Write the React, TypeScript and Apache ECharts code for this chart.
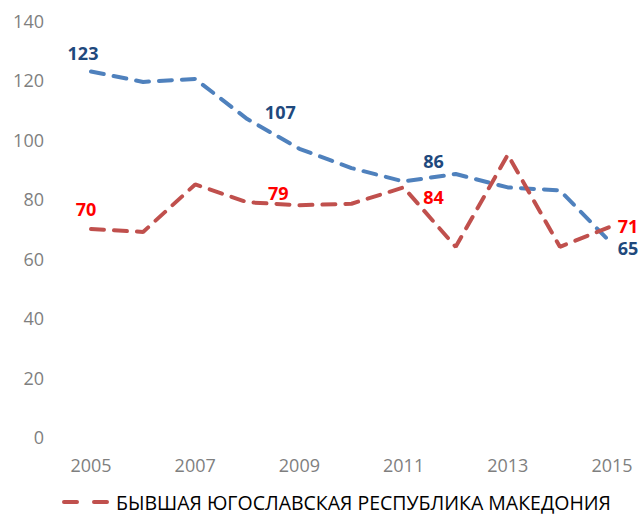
import React, { useEffect, useRef } from "react";
import * as echarts from "echarts";

const years = ["2005", "2006", "2007", "2008", "2009", "2010", "2011", "2012", "2013", "2014", "2015"];
const blueName = "Сравнение";
const redName = "БЫВШАЯ ЮГОСЛАВСКАЯ РЕСПУБЛИКА МАКЕДОНИЯ";
const blueValues = [123, 119.5, 120.5, 107, 97, 90.5, 86, 88.5, 84, 83, 65];
const redValues = [70, 69, 85, 79, 78, 78.5, 84, 64, 95, 64, 71];
// which points carry a visible data label, with label offsets (style only)
const blueLabelIdx = [0, 3, 6, 10];
const redLabelIdx = [0, 3, 6, 10];
const blueOffsets: Record<number, number[]> = { 0: [-8, -19], 3: [33, -7], 6: [30, -20], 10: [16, 4] };
const redOffsets: Record<number, number[]> = { 0: [-5, -20], 3: [31, -9], 6: [30, 10], 10: [16, 0] };
const yTicks = { min: 0, max: 140, interval: 20 };

export default function App() {
  const ref = useRef<HTMLDivElement>(null);
  useEffect(() => {
    if (!ref.current) return;
    const chart = echarts.init(ref.current, null, { renderer: "svg" });
    const mk = (vals: number[], idx: number[], offs: Record<number, number[]>, color: string) =>
      vals.map((v, i) =>
        idx.includes(i)
          ? {
              value: v,
              label: {
                show: true,
                position: "inside",
                offset: offs[i],
                color,
                fontWeight: "bold",
                fontSize: 18,
                lineHeight: 18,
                fontFamily: "Open Sans",
                formatter: (p: any) => String(Math.round(p.value)),
              },
            }
          : { value: v }
      );
    chart.setOption({
      animation: false,
      grid: { left: 91, right: 28, top: 21, bottom: 77 },
      legend: {
        data: [redName],
        top: 487,
        left: 57,
        itemWidth: 43,
        itemHeight: 14,
        itemGap: 10,
        itemStyle: { color: "transparent", borderColor: "transparent", borderWidth: 0, opacity: 0 },
        lineStyle: { type: [13, 17], width: 4, cap: "round", color: "#c0504d" },
        textStyle: { fontFamily: "Open Sans", fontSize: 19.5, color: "#000", padding: [0, 0, 0, 4] },
      },
      xAxis: {
        type: "category",
        data: years,
        boundaryGap: false,
        axisLine: { show: false },
        axisTick: { show: false },
        axisLabel: { interval: 1, color: "#7f7f7f", fontFamily: "Open Sans", fontSize: 18, margin: 19 },
      },
      yAxis: {
        type: "value",
        min: yTicks.min,
        max: yTicks.max,
        interval: yTicks.interval,
        splitLine: { show: false },
        axisLine: { show: false },
        axisTick: { show: false },
        axisLabel: { color: "#7f7f7f", fontFamily: "Open Sans", fontSize: 18, margin: 47 },
      },
      series: [
        {
          name: blueName,
          type: "line",
          data: mk(blueValues, blueLabelIdx, blueOffsets, "#1f497d"),
          symbol: "circle",
          symbolSize: 0,
          showSymbol: true,
          itemStyle: { color: "#4f81bd" },
          lineStyle: { color: "#4f81bd", width: 4, type: [13, 10], cap: "round" },
          z: 2,
        },
        {
          name: redName,
          type: "line",
          data: mk(redValues, redLabelIdx, redOffsets, "#ff0000"),
          symbol: "circle",
          symbolSize: 0,
          showSymbol: true,
          itemStyle: { color: "#c0504d" },
          lineStyle: { color: "#c0504d", width: 4, type: [13, 10], cap: "round" },
          z: 3,
        },
      ],
    });
    return () => chart.dispose();
  }, []);
  return <div ref={ref} style={{ width: 640, height: 514, position: "absolute", left: 0, top: 0 }} />;
}
